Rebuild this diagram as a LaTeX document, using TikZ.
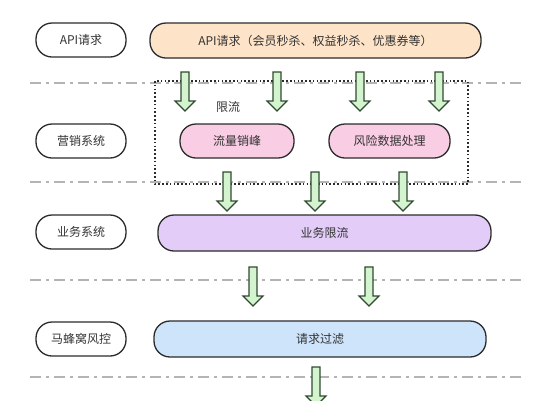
\documentclass[tikz,border=0pt]{standalone}
\usepackage{fontspec}
\newfontfamily\cjk{Noto Sans CJK SC}
\definecolor{txt}{HTML}{333333}
\definecolor{edge}{HTML}{2B2B2B}
\definecolor{peach}{HTML}{FDE3C8}
\definecolor{pinkf}{HTML}{F9CDE4}
\definecolor{purp}{HTML}{E3CDF8}
\definecolor{bluef}{HTML}{CDE4FA}
\definecolor{gfill}{HTML}{D3F4CF}
\definecolor{gedge}{HTML}{2F4A30}
\definecolor{dashg}{HTML}{B4B4B4}
\tikzset{
  basebox/.style={draw=edge, line width=1.3pt, rounded corners=16pt, text=txt,
    font=\cjk\fontsize{12}{14}\selectfont, inner sep=0pt},
  lbl/.style={basebox, fill=white, minimum width=90pt, minimum height=34pt},
  sep/.style={draw=dashg, line width=1.1pt, dash pattern=on 11pt off 5pt on 3pt off 5pt},
  dotbox/.style={draw=edge, line width=1.4pt, dash pattern=on 1.6pt off 2.2pt},
  garrowstyle/.style={fill=gfill, draw=gedge, line width=1.2pt, line join=miter},
  plain/.style={text=txt, font=\cjk\fontsize{12}{14}\selectfont, inner sep=0pt}
}
\newcommand\blockarrow[4]{% name, x, ytop, ytip
  \draw[garrowstyle] (#2-4,#3) -- (#2+4,#3) -- (#2+4,#4-10) -- (#2+10,#4-10)
    -- (#2,#4) -- (#2-10,#4-10) -- (#2-4,#4-10) -- cycle;
  \coordinate (#1) at (#2,#4);}
\begin{document}
\begin{tikzpicture}[x=1pt,y=-1pt]
\useasboundingbox (0,0) rectangle (548,400);
% separators
\draw[sep] (30,83) -- (521,83);
\draw[sep] (30,182) -- (521,182);
\draw[sep] (30,280) -- (521,280);
\draw[sep] (30,377) -- (521,377);
% dotted group box
\draw[dotbox] (155,81) rectangle (468,184);
% left labels
\node[lbl] (l1) at (81,40) {API请求};
\node[lbl] (l2) at (81,141) {营销系统};
\node[lbl] (l3) at (81,232) {业务系统};
\node[lbl] (l4) at (81,339) {马蜂窝风控};
% main boxes
\node[basebox, fill=peach, minimum width=331pt, minimum height=35pt] (api) at (315.5,40.5) {API请求（会员秒杀、权益秒杀、优惠券等）};
\node[basebox, fill=pinkf, minimum width=114pt, minimum height=34pt] (flow) at (237,141) {流量销峰};
\node[basebox, fill=pinkf, minimum width=121pt, minimum height=34pt] (risk) at (389.5,141) {风险数据处理};
\node[basebox, fill=purp, minimum width=333pt, minimum height=36pt] (biz) at (324.5,233) {业务限流};
\node[basebox, fill=bluef, minimum width=332pt, minimum height=36pt] (filt) at (320,339) {请求过滤};
\node[plain] (xl) at (228,107) {限流};
% arrows
\blockarrow{a1}{185}{72}{111}
\blockarrow{a2}{277}{72}{111}
\blockarrow{a3}{360}{72}{111}
\blockarrow{a4}{439}{72}{111}
\blockarrow{b1}{227}{172}{211}
\blockarrow{b2}{315}{172}{211}
\blockarrow{b3}{403}{172}{211}
\blockarrow{c1}{253}{267}{306}
\blockarrow{c2}{369}{267}{306}
\blockarrow{d1}{316}{367}{406}
\end{tikzpicture}
\end{document}
